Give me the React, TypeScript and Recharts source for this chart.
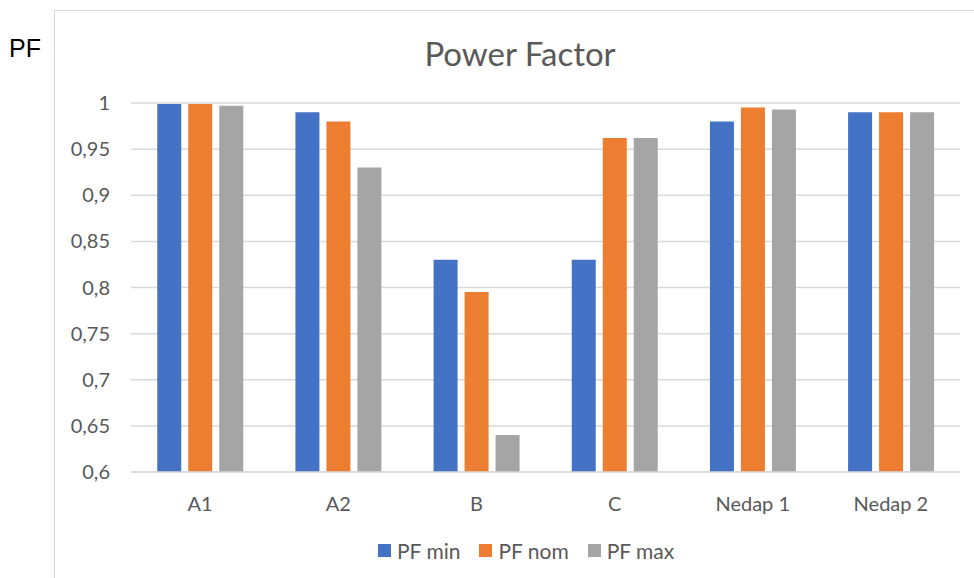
import { BarChart, Bar, XAxis, YAxis, CartesianGrid } from 'recharts';

const categories = ['A1', 'A2', 'B', 'C', 'Nedap 1', 'Nedap 2'];
const pfMin = [0.999, 0.99, 0.83, 0.83, 0.98, 0.99];
const pfNom = [0.999, 0.98, 0.795, 0.962, 0.995, 0.99];
const pfMax = [0.997, 0.93, 0.64, 0.962, 0.993, 0.99];
const yTicks = [0.6, 0.65, 0.7, 0.75, 0.8, 0.85, 0.9, 0.95, 1];

const SERIES = [
    { key: 'min', name: 'PF min', color: '#4472C4' },
    { key: 'nom', name: 'PF nom', color: '#ED7D31' },
    { key: 'max', name: 'PF max', color: '#A5A5A5' },
];

const FONT = 'Lato, "Noto Sans", sans-serif';
const TEXT = '#595959';

const data = categories.map((name, i) => ({
    name,
    min: pfMin[i],
    nom: pfNom[i],
    max: pfMax[i],
}));

export default function App() {
    return (
        <div style={{ position: 'absolute', left: 0, top: 0, width: 974, height: 578, background: '#fff', overflow: 'hidden' }}>
            {/* chart frame */}
            <div style={{ position: 'absolute', left: 54, top: 10, width: 940, height: 600, border: '1px solid #d9d9d9' }}></div>
            <div style={{ position: 'absolute', left: 9, top: 34, fontFamily: '"Liberation Sans", Arial, sans-serif', fontSize: 25, color: '#000' }}>
                PF
            </div>
            <div style={{ position: 'absolute', left: 0, width: 1040, top: 33, textAlign: 'center', fontFamily: FONT, fontSize: 33, color: TEXT }}>
                Power Factor
            </div>
            <div style={{ position: 'absolute', left: 0, top: 0 }}>
                <BarChart
                    width={974}
                    height={578}
                    data={data}
                    margin={{ top: 103, right: 14, left: 51, bottom: 76 }}
                    barGap={7}
                    barCategoryGap="19%"
                >
                    <CartesianGrid vertical={false} stroke="#d9d9d9" strokeWidth={1.5} />
                    <XAxis
                        dataKey="name"
                        height={30}
                        axisLine={{ stroke: '#d9d9d9', strokeWidth: 1.5 }}
                        tickLine={false}
                        tickSize={0}
                        tickMargin={25}
                        tick={{ fill: TEXT, fontSize: 20, fontFamily: FONT }}
                    />
                    <YAxis
                        width={80}
                        domain={[0.6, 1]}
                        ticks={yTicks}
                        interval={0}
                        allowDataOverflow
                        axisLine={false}
                        tickLine={false}
                        tickSize={0}
                        tickMargin={21}
                        tick={{ fill: TEXT, fontSize: 20, fontFamily: FONT }}
                        tickFormatter={(v: number) => String(v).replace('.', ',')}
                    />
                    {SERIES.map((s) => (
                        <Bar key={s.key} dataKey={s.key} name={s.name} fill={s.color} isAnimationActive={false} />
                    ))}
                </BarChart>
            </div>
            {/* legend */}
            <div style={{ position: 'absolute', left: 378, top: 538, display: 'flex', gap: 19, fontFamily: FONT, fontSize: 21, color: TEXT }}>
                {SERIES.map((s) => (
                    <div key={s.key} style={{ display: 'flex', alignItems: 'center', gap: 6 }}>
                        <div style={{ width: 13, height: 13, backgroundColor: s.color }}></div>
                        <span>{s.name}</span>
                    </div>
                ))}
            </div>
        </div>
    );
}
